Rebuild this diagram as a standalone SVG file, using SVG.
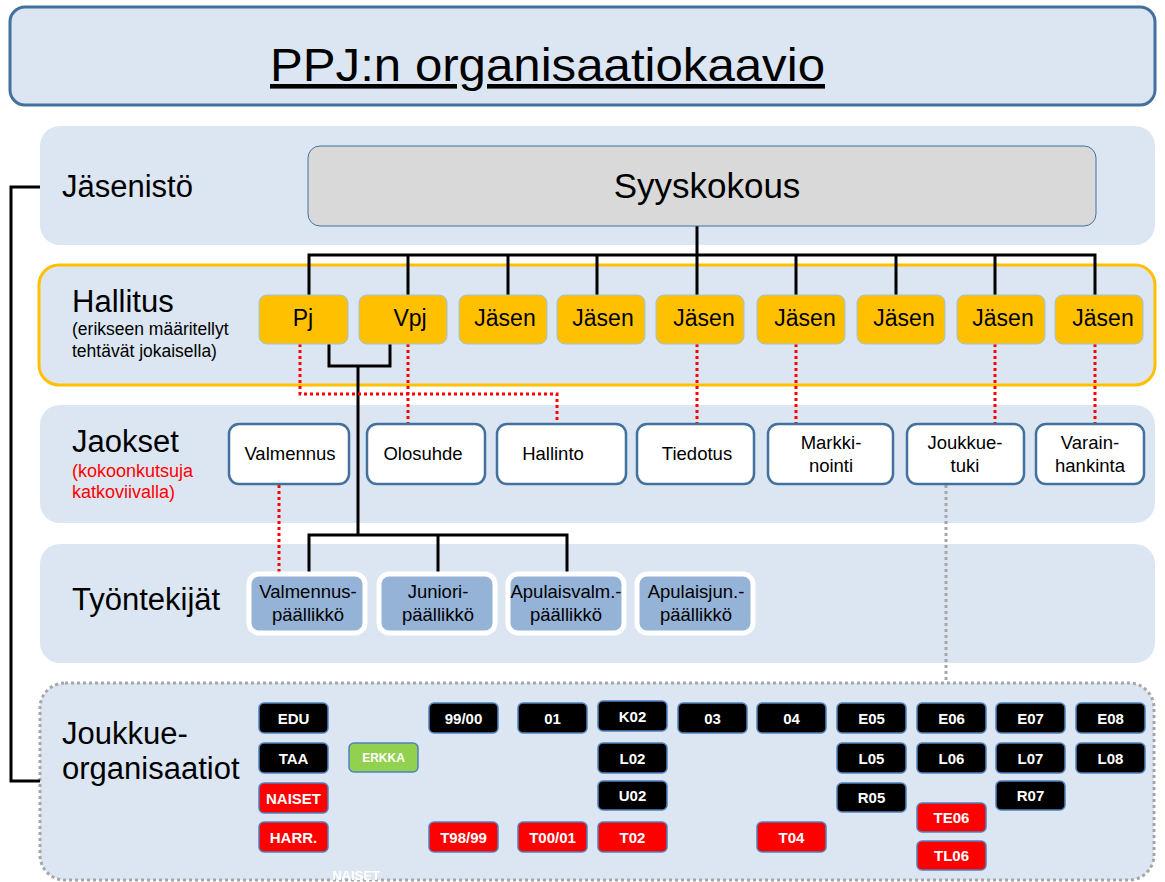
<svg xmlns="http://www.w3.org/2000/svg" width="1165" height="882" viewBox="0 0 1165 882">
<defs>
<style>
text{font-family:"Liberation Sans",Arial,sans-serif;fill:#000}
.band{fill:#dce6f2}
.lbl{font-size:31px}
.hb{fill:#ffc000;stroke:#9dc3e6;stroke-width:1}
.ht{font-size:23px;text-anchor:middle}
.jb{fill:#fff;stroke:#41719c;stroke-width:2.5}
.jt{font-size:18.5px;text-anchor:middle}
.tb{fill:#95b3d7;stroke:#fff;stroke-width:5}
.tt{font-size:18.5px;text-anchor:middle}
.k{fill:#000;stroke:#4f81bd;stroke-width:1.5}
.r{fill:#ff0000;stroke:#4f81bd;stroke-width:1.5}
.g{fill:#92d050;stroke:#4f81bd;stroke-width:1.5}
.kt{font-size:15px;font-weight:bold;fill:#fff;text-anchor:middle}
.solid{fill:none;stroke:#000;stroke-width:3}
.red{fill:none;stroke:#ff0000;stroke-width:3;stroke-dasharray:3 3}
.gray{fill:none;stroke:#a6a6a6;stroke-width:3;stroke-dasharray:3 3}
</style>
</defs>
<rect width="1165" height="882" fill="#fff"/>

<g id="title">
<rect x="10" y="7" width="1145" height="98" rx="15" fill="#dce6f2" stroke="#41719c" stroke-width="3"/>
<text x="270" y="81" font-size="46" textLength="555" lengthAdjust="spacingAndGlyphs" text-decoration="underline">PPJ:n organisaatiokaavio</text>
</g>

<g id="band-jasenisto">
<rect class="band" x="40" y="126" width="1115" height="119" rx="20"/>
<text class="lbl" x="62" y="197">Jäsenistö</text>
</g>
<g id="band-hallitus">
<rect class="band" x="39" y="265" width="1116" height="120" rx="20" stroke="#ffc000" stroke-width="3"/>
<text class="lbl" x="72" y="312">Hallitus</text>
<text x="72" y="335" font-size="17.5">(erikseen määritellyt</text>
<text x="72" y="357" font-size="17.5">tehtävät jokaisella)</text>
</g>
<g id="band-jaokset">
<rect class="band" x="40" y="405" width="1115" height="118" rx="20"/>
<text class="lbl" x="72" y="452">Jaokset</text>
<text x="72" y="477" font-size="18" style="fill:#ff0000">(kokoonkutsuja</text>
<text x="72" y="498" font-size="18" style="fill:#ff0000">katkoviivalla)</text>
</g>
<g id="band-tyontekijat">
<rect class="band" x="40" y="544" width="1115" height="119" rx="20"/>
<text class="lbl" x="72" y="610">Työntekijät</text>
</g>
<g id="band-joukkue">
<rect x="40" y="683" width="1114" height="197" rx="25" class="gray" style="fill:#dce6f2"/>
<text class="lbl" x="62" y="744">Joukkue-</text>
<text class="lbl" x="62" y="779">organisaatiot</text>
</g>

<g id="connectors">
<path class="solid" d="M40,187 H11 V781 H40"/>
<path class="solid" d="M697,226 V295 M309,295 V255 H1095 V295 M408,255 V295 M508,255 V295 M597,255 V295 M796,255 V295 M896,255 V295 M995,255 V295"/>
<path class="solid" d="M329,344 V366 H390 V344 M358,366 V535 M309,574 V535 H567 V574 M438,535 V574"/>
<path class="red" d="M300,344 V394 H557 V425 M408,344 V425 M697,344 V425 M796,344 V425 M995,344 V425 M1095,344 V425 M279,485 V574"/>
<path class="gray" d="M946,485 V683"/>
</g>

<g id="syyskokous">
<rect x="308" y="146" width="788" height="80" rx="12" fill="#d9d9d9" stroke="#41719c" stroke-width="1"/>
<text x="707" y="198" font-size="35" text-anchor="middle">Syyskokous</text>
</g>

<g id="h-pj"><rect class="hb" x="259" y="295" width="89" height="49" rx="8"/><text class="ht" x="303" y="326">Pj</text></g>
<g id="h-vpj"><rect class="hb" x="359" y="295" width="88" height="49" rx="8"/><text class="ht" x="410" y="326">Vpj</text></g>
<g id="h-j1"><rect class="hb" x="459" y="295" width="88" height="49" rx="8"/><text class="ht" x="505" y="326">Jäsen</text></g>
<g id="h-j2"><rect class="hb" x="557" y="295" width="88" height="49" rx="8"/><text class="ht" x="603" y="326">Jäsen</text></g>
<g id="h-j3"><rect class="hb" x="656" y="295" width="88" height="49" rx="8"/><text class="ht" x="704" y="326">Jäsen</text></g>
<g id="h-j4"><rect class="hb" x="757" y="295" width="88" height="49" rx="8"/><text class="ht" x="805" y="326">Jäsen</text></g>
<g id="h-j5"><rect class="hb" x="857" y="295" width="88" height="49" rx="8"/><text class="ht" x="904" y="326">Jäsen</text></g>
<g id="h-j6"><rect class="hb" x="957" y="295" width="88" height="49" rx="8"/><text class="ht" x="1003" y="326">Jäsen</text></g>
<g id="h-j7"><rect class="hb" x="1055" y="295" width="88" height="49" rx="8"/><text class="ht" x="1103" y="326">Jäsen</text></g>

<g id="j-valmennus"><rect class="jb" x="229" y="424" width="120" height="60" rx="10"/><text class="jt" x="290" y="460">Valmennus</text></g>
<g id="j-olosuhde"><rect class="jb" x="367" y="424" width="118" height="60" rx="10"/><text class="jt" x="423" y="460">Olosuhde</text></g>
<g id="j-hallinto"><rect class="jb" x="497" y="424" width="129" height="60" rx="10"/><text class="jt" x="553" y="460">Hallinto</text></g>
<g id="j-tiedotus"><rect class="jb" x="637" y="424" width="117" height="60" rx="10"/><text class="jt" x="697" y="460">Tiedotus</text></g>
<g id="j-markkinointi"><rect class="jb" x="768" y="424" width="125" height="60" rx="10"/><text class="jt" x="831" y="449">Markki-</text><text class="jt" x="831" y="472">nointi</text></g>
<g id="j-joukkuetuki"><rect class="jb" x="907" y="424" width="117" height="60" rx="10"/><text class="jt" x="965" y="449">Joukkue-</text><text class="jt" x="965" y="472">tuki</text></g>
<g id="j-varainhankinta"><rect class="jb" x="1036" y="424" width="108" height="60" rx="10"/><text class="jt" x="1090" y="449">Varain-</text><text class="jt" x="1090" y="472">hankinta</text></g>

<g id="t-valmennus"><rect class="tb" x="249" y="574" width="116" height="59" rx="10"/><text class="tt" x="308" y="598">Valmennus-</text><text class="tt" x="308" y="621">päällikkö</text></g>
<g id="t-juniori"><rect class="tb" x="379" y="574" width="116" height="59" rx="10"/><text class="tt" x="438" y="598">Juniori-</text><text class="tt" x="438" y="621">päällikkö</text></g>
<g id="t-apulaisvalm"><rect class="tb" x="508" y="574" width="116" height="59" rx="10"/><text class="tt" x="566" y="598">Apulaisvalm.-</text><text class="tt" x="566" y="621">päällikkö</text></g>
<g id="t-apulaisjun"><rect class="tb" x="637" y="574" width="116" height="59" rx="10"/><text class="tt" x="696" y="598">Apulaisjun.-</text><text class="tt" x="696" y="621">päällikkö</text></g>

<g id="tm-edu"><rect class="k" x="259" y="703" width="69" height="30" rx="5"/><text class="kt" x="293.5" y="724">EDU</text></g>
<g id="tm-taa"><rect class="k" x="259" y="743" width="69" height="30" rx="5"/><text class="kt" x="293.5" y="764">TAA</text></g>
<g id="tm-naiset"><rect class="r" x="259" y="783" width="69" height="30" rx="5"/><text class="kt" x="293.5" y="804">NAISET</text></g>
<g id="tm-harr"><rect class="r" x="259" y="822" width="69" height="30" rx="5"/><text class="kt" x="293.5" y="843">HARR.</text></g>
<g id="tm-erkka"><rect class="g" x="349" y="743" width="69" height="29" rx="5"/><text class="kt" x="383.5" y="762" style="font-size:12px">ERKKA</text></g>
<g id="tm-9900"><rect class="k" x="429" y="703" width="69" height="30" rx="5"/><text class="kt" x="463.5" y="724">99/00</text></g>
<g id="tm-t9899"><rect class="r" x="429" y="822" width="69" height="30" rx="5"/><text class="kt" x="463.5" y="843">T98/99</text></g>
<g id="tm-01"><rect class="k" x="518" y="703" width="69" height="30" rx="5"/><text class="kt" x="552.5" y="724">01</text></g>
<g id="tm-t0001"><rect class="r" x="518" y="822" width="69" height="30" rx="5"/><text class="kt" x="552.5" y="843">T00/01</text></g>
<g id="tm-k02"><rect class="k" x="598" y="701" width="69" height="30" rx="5"/><text class="kt" x="632.5" y="722">K02</text></g>
<g id="tm-l02"><rect class="k" x="598" y="743" width="69" height="30" rx="5"/><text class="kt" x="632.5" y="764">L02</text></g>
<g id="tm-u02"><rect class="k" x="598" y="781" width="69" height="29" rx="5"/><text class="kt" x="632.5" y="801">U02</text></g>
<g id="tm-t02"><rect class="r" x="598" y="822" width="69" height="30" rx="5"/><text class="kt" x="632.5" y="843">T02</text></g>
<g id="tm-03"><rect class="k" x="678" y="703" width="69" height="30" rx="5"/><text class="kt" x="712.5" y="724">03</text></g>
<g id="tm-04"><rect class="k" x="757" y="703" width="69" height="30" rx="5"/><text class="kt" x="791.5" y="724">04</text></g>
<g id="tm-t04"><rect class="r" x="757" y="822" width="69" height="30" rx="5"/><text class="kt" x="791.5" y="843">T04</text></g>
<g id="tm-e05"><rect class="k" x="837" y="703" width="69" height="30" rx="5"/><text class="kt" x="871.5" y="724">E05</text></g>
<g id="tm-l05"><rect class="k" x="837" y="743" width="69" height="30" rx="5"/><text class="kt" x="871.5" y="764">L05</text></g>
<g id="tm-r05"><rect class="k" x="837" y="783" width="69" height="29" rx="5"/><text class="kt" x="871.5" y="803">R05</text></g>
<g id="tm-e06"><rect class="k" x="917" y="703" width="69" height="30" rx="5"/><text class="kt" x="951.5" y="724">E06</text></g>
<g id="tm-l06"><rect class="k" x="917" y="743" width="69" height="30" rx="5"/><text class="kt" x="951.5" y="764">L06</text></g>
<g id="tm-te06"><rect class="r" x="917" y="803" width="69" height="29" rx="5"/><text class="kt" x="951.5" y="823">TE06</text></g>
<g id="tm-tl06"><rect class="r" x="917" y="841" width="69" height="29" rx="5"/><text class="kt" x="951.5" y="861">TL06</text></g>
<g id="tm-e07"><rect class="k" x="996" y="703" width="69" height="30" rx="5"/><text class="kt" x="1030.5" y="724">E07</text></g>
<g id="tm-l07"><rect class="k" x="996" y="743" width="69" height="30" rx="5"/><text class="kt" x="1030.5" y="764">L07</text></g>
<g id="tm-r07"><rect class="k" x="996" y="781" width="69" height="29" rx="5"/><text class="kt" x="1030.5" y="801">R07</text></g>
<g id="tm-e08"><rect class="k" x="1076" y="703" width="69" height="30" rx="5"/><text class="kt" x="1110.5" y="724">E08</text></g>
<g id="tm-l08"><rect class="k" x="1076" y="743" width="69" height="30" rx="5"/><text class="kt" x="1110.5" y="764">L08</text></g>
<text class="kt" x="356" y="880" style="font-size:13px">NAISET</text>
</svg>
